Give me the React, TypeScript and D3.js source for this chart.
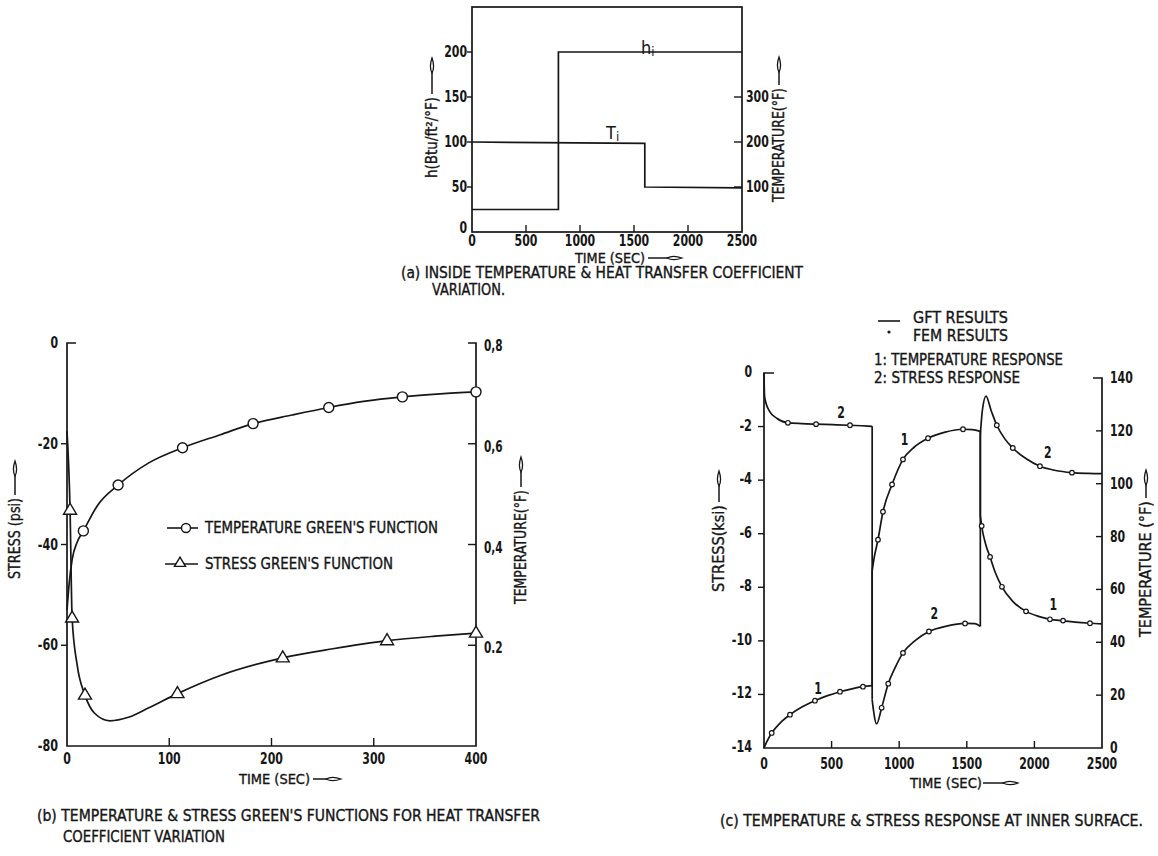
import React from 'react';
import * as d3 from 'd3';

const FONT = "'Liberation Sans Narrow', 'DejaVu Sans Condensed', 'Arial Narrow', sans-serif";
const INK = '#161616';

// ---------- (a) inside temperature & heat transfer coefficient ----------
const hTime = [0, 800, 800, 2500];
const hValue = [25, 25, 200, 200];
const tiTime = [0, 1600, 1600, 2500];
const tiValue = [200, 197, 100, 98];
const aLeftTicks = [0, 50, 100, 150, 200];
const aRightTicks = [100, 200, 300];
const aTimeTicks = [0, 500, 1000, 1500, 2000, 2500];

// ---------- (b) green's functions ----------
const bTempCurve: [number, number][] = [
  [0, 0.27], [2, 0.32], [5, 0.37], [10, 0.405], [16, 0.427], [30, 0.478], [50, 0.518],
  [80, 0.562], [113, 0.592], [150, 0.618], [182, 0.64], [220, 0.657], [256, 0.672],
  [290, 0.684], [328, 0.693], [365, 0.699], [400, 0.703],
];
const bTempMarks: [number, number][] = [
  [16, 0.427], [50, 0.518], [113, 0.592], [182, 0.64], [256, 0.672], [328, 0.693], [400, 0.703],
];
const bStressCurve: [number, number][] = [
  [0, -17.5], [3, -33.2], [5, -54.6], [10, -64], [17.6, -69.9], [27, -73.5], [42, -75],
  [60, -74.3], [80, -72.4], [108, -69.6], [150, -66], [211, -62.5], [260, -60.7],
  [313, -59.1], [360, -58.2], [400, -57.6],
];
const bStressMarks: [number, number][] = [
  [3, -33.2], [5, -54.6], [17.6, -69.9], [108, -69.6], [211, -62.5], [313, -59.1], [400, -57.6],
];
const bStressTicks = [0, -20, -40, -60, -80];
const bTempTicks = [0.8, 0.6, 0.4, 0.2];
const bTempTickLabels = ['0,8', '0,6', '0,4', '0.2'];
const bTimeTicks = [0, 100, 200, 300, 400];

// ---------- (c) response at inner surface ----------
const cTemp1: [number, number][] = [
  [0, 0], [20, 2.3], [57, 5.7], [120, 9.5], [192, 12.6], [280, 15.5], [377, 17.9], [470, 19.8],
  [562, 21.3], [650, 22.4], [732, 23.2], [800, 23.6],
];
const cTemp2: [number, number][] = [
  [800, 67], [815, 72], [843, 78.8], [880, 89.4], [947, 99.7], [1028, 109.2], [1110, 113.8],
  [1213, 117.2], [1340, 119.5], [1472, 120.6], [1540, 120.5], [1600, 119.8],
];
const cTemp3: [number, number][] = [
  [1600, 88], [1610, 84], [1640, 77], [1672, 72.3], [1710, 66.5], [1760, 61], [1840, 55.5],
  [1938, 51.7], [2030, 49.8], [2115, 48.7], [2212, 48.1], [2300, 47.6], [2411, 47.2], [2500, 47],
];
const cStress1: [number, number][] = [
  [0, 0], [4, -0.85], [15, -1.13], [40, -1.42], [94, -1.69], [177, -1.86], [280, -1.89],
  [385, -1.91], [510, -1.93], [636, -1.95], [720, -1.97], [800, -1.99],
];
const cStress2: [number, number][] = [
  [800, -12.2], [833, -13.1], [870, -12.5], [919, -11.6], [970, -11], [1028, -10.45],
  [1120, -9.98], [1220, -9.65], [1350, -9.45], [1487, -9.35], [1560, -9.36], [1600, -9.46],
];
const cStress3: [number, number][] = [
  [1600, -2.3], [1615, -1.4], [1642, -0.86], [1680, -1.4], [1722, -1.95], [1780, -2.45],
  [1840, -2.8], [1940, -3.2], [2041, -3.48], [2150, -3.63], [2278, -3.72], [2400, -3.75], [2500, -3.76],
];
const cTempFem: [number, number][] = [
  [57, 5.7], [192, 12.6], [377, 17.9], [562, 21.3], [732, 23.2], [843, 78.8], [880, 89.4],
  [947, 99.7], [1028, 109.2], [1213, 117.2], [1472, 120.6], [1610, 84], [1672, 72.3],
  [1760, 61], [1938, 51.7], [2115, 48.7], [2212, 48.2], [2411, 47.2],
];
const cStressFem: [number, number][] = [
  [177, -1.86], [385, -1.91], [636, -1.95], [870, -12.5], [919, -11.6], [1028, -10.45],
  [1220, -9.65], [1487, -9.35], [1722, -1.95], [1840, -2.8], [2041, -3.48], [2278, -3.72],
];
const cStressTicks = [0, -2, -4, -6, -8, -10, -12, -14];
const cTempTicks = [0, 20, 40, 60, 80, 100, 120, 140];
const cTimeTicks = [0, 500, 1000, 1500, 2000, 2500];
// curve numbers: [time, value, label, axis]
const cLabels: [number, number, string, string][] = [
  [570, -1.5, '2', 's'], [1040, 116.5, '1', 't'], [2100, -3.0, '2', 's'],
  [400, 22.5, '1', 't'], [1260, -9.0, '2', 's'], [2140, 54, '1', 't'],
];

const Txt = ({ x, y, len, anchor = 'start', size = 15, weight = 400, children }: any) => (
  <text x={x} y={y} fontSize={size} fontWeight={weight} textAnchor={anchor}
    dominantBaseline="central" fill={INK}
    stroke={weight < 700 ? INK : 'none'} strokeWidth={weight < 700 ? 0.35 : 0}
    textLength={len} lengthAdjust={len ? 'spacingAndGlyphs' : undefined}>
    {children}
  </text>
);

// bold tick numbers, squeezed to the narrow lettering of the original
const Num = ({ x, y, anchor = 'start', children }: any) => {
  const s = String(children);
  const len = s.split('').reduce((a, c) => a + (c === '-' ? 5 : c === ',' || c === '.' ? 3.5 : 7.6), 0);
  return <Txt x={x} y={y} anchor={anchor} weight={700} size={15} len={len}>{s}</Txt>;
};

const Arrow = ({ x1, x2, y }: any) => (
  <g>
    <line x1={x1} x2={x2 - 12} y1={y} y2={y} stroke={INK} strokeWidth={1.5} />
    <path d={`M${x2 - 15},${y} Q${x2 - 9},${y - 3.2} ${x2},${y} Q${x2 - 9},${y + 3.2} ${x2 - 15},${y} Z`}
      fill="#fff" stroke={INK} strokeWidth={1.3} />
  </g>
);

const VTitle = ({ cx, bottom, len, arrow, children }: any) => (
  <g transform={`translate(${cx},${bottom}) rotate(-90)`}>
    <Txt x={0} y={0} len={len} size={15}>{children}</Txt>
    <Arrow x1={len + 3} x2={len + 3 + arrow} y={0} />
  </g>
);

const smooth = (pts: [number, number][], x: any, y: any) =>
  d3.line<[number, number]>().x(d => x(d[0])).y(d => y(d[1])).curve(d3.curveMonotoneX)(pts) as string;
const straight = (pts: [number, number][], x: any, y: any) =>
  d3.line<[number, number]>().x(d => x(d[0])).y(d => y(d[1]))(pts) as string;

export default function App() {
  // panel scales
  const xA = d3.scaleLinear().domain([0, 2500]).range([472, 742]);
  const yAh = d3.scaleLinear().domain([0, 250]).range([232, 7]);
  const yAt = d3.scaleLinear().domain([0, 500]).range([232, 7]);

  const xB = d3.scaleLinear().domain([0, 400]).range([67, 476]);
  const yBs = d3.scaleLinear().domain([-80, 0]).range([746, 343]);
  const yBt = d3.scaleLinear().domain([0, 0.8]).range([746, 343]);

  const xC = d3.scaleLinear().domain([0, 2500]).range([764, 1102]);
  const yCs = d3.scaleLinear().domain([-14, 0]).range([748, 373]);
  const yCt = d3.scaleLinear().domain([0, 140]).range([748, 378]);

  const stroke = { stroke: INK, strokeWidth: 1.7, fill: 'none' };

  const hPath = d3.line<number>().x((_, i) => xA(hTime[i])).y(v => yAh(v))(hValue) as string;
  const tiPath = d3.line<number>().x((_, i) => xA(tiTime[i])).y(v => yAt(v))(tiValue) as string;

  const tri = (cx: number, cy: number, s = 1) =>
    `M${cx},${cy - 7 * s} L${cx + 6.5 * s},${cy + 4 * s} L${cx - 6.5 * s},${cy + 4 * s} Z`;

  const cTempSegs = [cTemp1, cTemp2, cTemp3];
  const cStressSegs = [cStress1, cStress2, cStress3];

  return (
    <svg width={1158} height={856} style={{ position: 'absolute', left: 0, top: 0, background: '#fff' }}
      fontFamily={FONT}>
      <rect width={1158} height={856} fill="#fff" />

      {/* ================= (a) ================= */}
      <rect x={xA(0)} y={yAh(250)} width={xA(2500) - xA(0)} height={yAh(0) - yAh(250)} {...stroke} />
      {aLeftTicks.map(v => (
        <g key={'al' + v}>
          {v > 0 && <line x1={xA(0) - 5} x2={xA(0)} y1={yAh(v)} y2={yAh(v)} stroke={INK} strokeWidth={1.4} />}
          <Num x={xA(0) - 5} y={yAh(v) - (v === 0 ? 4 : 0)} anchor="end">{v}</Num>
        </g>
      ))}
      {aRightTicks.map(v => (
        <g key={'ar' + v}>
          <line x1={xA(2500) - 8} x2={xA(2500)} y1={yAt(v)} y2={yAt(v)} stroke={INK} strokeWidth={1.4} />
          <Num x={xA(2500) + 4} y={yAt(v)}>{v}</Num>
        </g>
      ))}
      {aTimeTicks.map(v => (
        <g key={'at' + v}>
          {v > 0 && v < 2500 && <line x1={xA(v)} x2={xA(v)} y1={yAh(0)} y2={yAh(0) - 7} stroke={INK} strokeWidth={1.4} />}
          <Num x={xA(v)} y={241} anchor="middle">{v}</Num>
        </g>
      ))}
      <path d={hPath} {...stroke} />
      <path d={tiPath} {...stroke} />
      <text x={641} y={47} fontSize={18} fill={INK} dominantBaseline="central">h<tspan fontSize={13} dy={4}>i</tspan></text>
      <text x={606} y={132} fontSize={18} fill={INK} dominantBaseline="central">T<tspan fontSize={13} dy={4}>i</tspan></text>
      <VTitle cx={432} bottom={178} len={81} arrow={36}>h(Btu/ft²/°F)</VTitle>
      <VTitle cx={779} bottom={202} len={114} arrow={28}>TEMPERATURE(°F)</VTitle>
      <Txt x={575} y={258} len={70} size={14}>TIME (SEC)</Txt>
      <Arrow x1={648} x2={682} y={258} />
      <Txt x={401} y={273} len={402}>(a) INSIDE TEMPERATURE &amp; HEAT TRANSFER COEFFICIENT</Txt>
      <Txt x={432} y={290} len={73}>VARIATION.</Txt>

      {/* ================= (b) ================= */}
      <path d={`M${xB(0) + 9},${yBs(0)} H${xB(0)} V${yBs(-80)} H${xB(400)} V${yBt(0.8)} H${xB(400) - 8}`} {...stroke} />
      {bStressTicks.map(v => (
        <g key={'bl' + v}>
          {v < 0 && v > -80 && <line x1={xB(0) - 6} x2={xB(0)} y1={yBs(v)} y2={yBs(v)} stroke={INK} strokeWidth={1.4} />}
          <Num x={58} y={yBs(v)} anchor="end">{v}</Num>
        </g>
      ))}
      {bTempTicks.map((v, i) => (
        <g key={'br' + v}>
          {v < 0.8 && <line x1={xB(400) - 8} x2={xB(400)} y1={yBt(v)} y2={yBt(v)} stroke={INK} strokeWidth={1.4} />}
          <Num x={484} y={yBt(v) + 3}>{bTempTickLabels[i]}</Num>
        </g>
      ))}
      {bTimeTicks.map(v => (
        <g key={'bt' + v}>
          {v > 0 && v < 400 && <line x1={xB(v)} x2={xB(v)} y1={yBs(-80)} y2={yBs(-80) - 8} stroke={INK} strokeWidth={1.4} />}
          <Num x={xB(v)} y={759} anchor="middle">{v}</Num>
        </g>
      ))}
      <path d={smooth(bTempCurve, xB, yBt)} {...stroke} />
      <path d={smooth(bStressCurve, xB, yBs)} {...stroke} />
      {bTempMarks.map(([t, v], i) => (
        <circle key={'bc' + i} cx={xB(t)} cy={yBt(v)} r={5} fill="#fff" stroke={INK} strokeWidth={1.4} />
      ))}
      {bStressMarks.map(([t, v], i) => (
        <path key={'bm' + i} d={tri(xB(t), yBs(v))} fill="#fff" stroke={INK} strokeWidth={1.4} />
      ))}
      {/* legend */}
      <line x1={167} x2={198} y1={528} y2={528} stroke={INK} strokeWidth={1.6} />
      <circle cx={186} cy={528} r={4.5} fill="#fff" stroke={INK} strokeWidth={1.4} />
      <Txt x={205} y={528} len={233}>TEMPERATURE GREEN'S FUNCTION</Txt>
      <line x1={165} x2={198} y1={564} y2={564} stroke={INK} strokeWidth={1.6} />
      <path d={tri(180, 563, 0.85)} fill="#fff" stroke={INK} strokeWidth={1.4} />
      <Txt x={205} y={564} len={188}>STRESS GREEN'S FUNCTION</Txt>
      <VTitle cx={15} bottom={579} len={81} arrow={34}>STRESS (psi)</VTitle>
      <VTitle cx={521} bottom={604} len={114} arrow={30}>TEMPERATURE(°F)</VTitle>
      <Txt x={239} y={779} len={71} size={14}>TIME (SEC)</Txt>
      <Arrow x1={313} x2={341} y={779} />
      <Txt x={37} y={816} len={503}>(b) TEMPERATURE &amp; STRESS GREEN'S FUNCTIONS FOR HEAT TRANSFER</Txt>
      <Txt x={63} y={837} len={162}>COEFFICIENT VARIATION</Txt>

      {/* ================= (c) ================= */}
      <path d={`M${xC(0) + 10},${yCs(0)} H${xC(0)} V${yCs(-14)} H${xC(2500)} V${yCt(140)} H${xC(2500) - 9}`} {...stroke} />
      {cStressTicks.map(v => (
        <g key={'cl' + v}>
          {v < 0 && v > -14 && <line x1={xC(0) - 6} x2={xC(0)} y1={yCs(v)} y2={yCs(v)} stroke={INK} strokeWidth={1.4} />}
          <Num x={752} y={yCs(v) - 1} anchor="end">{v}</Num>
        </g>
      ))}
      {cTempTicks.map(v => (
        <g key={'cr' + v}>
          {v > 0 && v < 140 && <line x1={xC(2500) - 6} x2={xC(2500)} y1={yCt(v)} y2={yCt(v)} stroke={INK} strokeWidth={1.4} />}
          <Num x={1110} y={yCt(v)}>{v}</Num>
        </g>
      ))}
      {cTimeTicks.map(v => (
        <g key={'ct' + v}>
          {v > 0 && v < 2500 && <line x1={xC(v)} x2={xC(v)} y1={yCs(-14)} y2={yCs(-14) - 7} stroke={INK} strokeWidth={1.4} />}
          <Num x={xC(v)} y={764} anchor="middle">{v}</Num>
        </g>
      ))}
      {cTempSegs.map((s, i) => <path key={'cts' + i} d={smooth(s, xC, yCt)} {...stroke} />)}
      {cTempSegs.slice(1).map((s, i) => (
        <path key={'ctj' + i} d={straight([cTempSegs[i][cTempSegs[i].length - 1], s[0]], xC, yCt)} {...stroke} />
      ))}
      {cStressSegs.map((s, i) => <path key={'css' + i} d={smooth(s, xC, yCs)} {...stroke} />)}
      {cStressSegs.slice(1).map((s, i) => (
        <path key={'csj' + i} d={straight([cStressSegs[i][cStressSegs[i].length - 1], s[0]], xC, yCs)} {...stroke} />
      ))}
      {cTempFem.map(([t, v], i) => (
        <circle key={'cf1' + i} cx={xC(t)} cy={yCt(v)} r={2.3} fill="#fff" stroke={INK} strokeWidth={1.2} />
      ))}
      {cStressFem.map(([t, v], i) => (
        <circle key={'cf2' + i} cx={xC(t)} cy={yCs(v)} r={2.3} fill="#fff" stroke={INK} strokeWidth={1.2} />
      ))}
      {cLabels.map(([t, v, s, ax], i) => (
        <Num key={'clb' + i} x={xC(t)} y={ax === 's' ? yCs(v) : yCt(v)} anchor="middle">{s}</Num>
      ))}
      {/* legend */}
      <line x1={878} x2={900} y1={321} y2={321} stroke={INK} strokeWidth={1.6} />
      <Txt x={913} y={318} len={95}>GFT RESULTS</Txt>
      <circle cx={889} cy={332} r={1.6} fill={INK} />
      <Txt x={913} y={336} len={95}>FEM RESULTS</Txt>
      <Txt x={874} y={360} len={189}>1: TEMPERATURE RESPONSE</Txt>
      <Txt x={874} y={378} len={146}>2: STRESS RESPONSE</Txt>
      <VTitle cx={719} bottom={592} len={87} arrow={31}>STRESS(ksi)</VTitle>
      <VTitle cx={1146} bottom={637} len={136} arrow={28}>TEMPERATURE (°F)</VTitle>
      <Txt x={910} y={783} len={72} size={14}>TIME (SEC)</Txt>
      <Arrow x1={983} x2={1018} y={783} />
      <Txt x={720} y={821} len={423}>(c) TEMPERATURE &amp; STRESS RESPONSE AT INNER SURFACE.</Txt>
    </svg>
  );
}
